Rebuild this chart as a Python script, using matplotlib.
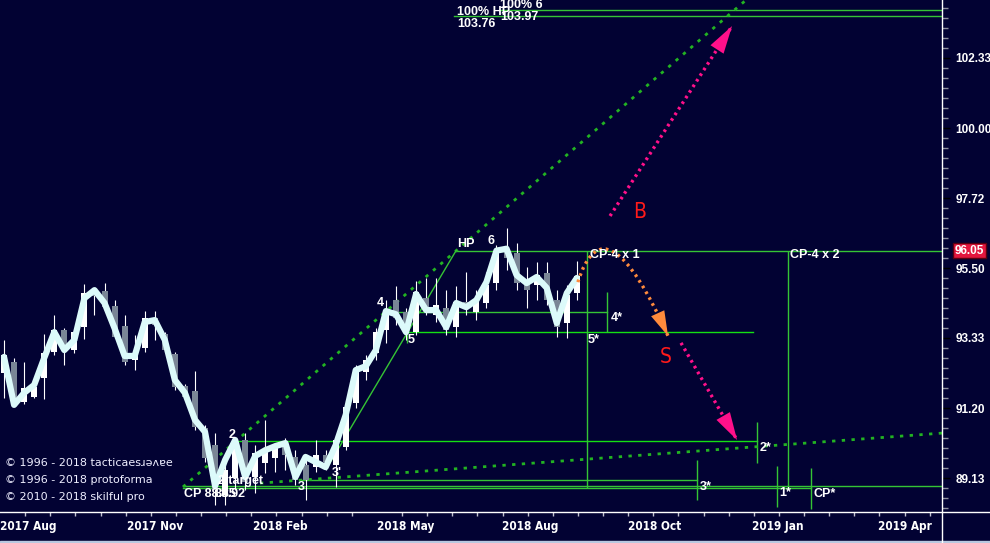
import matplotlib.pyplot as plt
import numpy as np
import matplotlib.transforms as mtransforms
from matplotlib.lines import Line2D
from matplotlib.patches import Rectangle, PathPatch
from matplotlib.path import Path
from matplotlib.ticker import FixedLocator, NullFormatter

# weekly bars, index 0 = first week of Aug 2017
bar_open = [92.26, 92.60, 91.39, 91.54, 92.11, 92.90, 93.57, 92.96, 93.66, 94.78,
            94.78, 94.31, 93.69, 92.66, 93.02, 93.94, 93.45, 92.84, 91.87, 91.72,
            90.61, 90.10, 88.64, 89.13, 90.25, 89.16, 89.57, 89.72, 90.19, 89.75,
            89.51, 89.45, 89.80, 89.51, 90.04, 91.36, 92.29, 92.87, 93.57, 94.50,
            94.13, 93.51, 94.56, 94.03, 94.25, 93.66, 94.44, 94.13, 94.41, 95.03,
            96.11, 95.96, 95.13, 94.97, 95.35, 94.50, 93.79, 94.72]
bar_high = [93.27, 92.72, 92.60, 91.90, 93.45, 94.03, 93.63, 93.57, 95.00, 94.84,
            95.03, 94.50, 94.03, 93.42, 94.16, 94.16, 93.51, 92.90, 91.93, 92.32,
            90.70, 90.46, 89.66, 90.31, 90.46, 90.10, 90.85, 90.16, 90.31, 89.95,
            89.72, 90.25, 89.95, 90.40, 91.45, 92.50, 92.81, 93.63, 94.50, 94.94,
            94.25, 95.10, 95.19, 95.19, 94.81, 94.94, 95.38, 94.81, 95.38, 96.22,
            96.77, 96.28, 95.53, 95.69, 95.69, 94.81, 94.97, 95.72]
bar_low = [91.51, 91.30, 91.33, 91.51, 91.48, 92.81, 92.50, 92.87, 93.30, 94.03,
           94.19, 93.33, 92.50, 92.35, 92.90, 93.27, 92.90, 91.75, 91.45, 90.55,
           89.60, 88.35, 88.35, 88.78, 88.78, 88.69, 89.28, 89.31, 89.37, 88.93,
           88.49, 89.31, 89.37, 88.87, 89.95, 91.21, 92.05, 92.66, 93.18, 93.72,
           93.27, 93.42, 94.03, 93.82, 93.42, 93.36, 94.03, 93.88, 94.25, 94.81,
           95.44, 94.81, 94.25, 94.50, 94.35, 93.36, 93.33, 94.50]
bar_close = [92.81, 91.39, 91.81, 91.84, 92.87, 93.57, 93.05, 93.51, 94.72, 94.63,
             94.28, 93.36, 92.60, 92.87, 93.94, 93.72, 92.96, 91.84, 91.54, 90.64,
             89.72, 88.78, 89.37, 90.19, 89.01, 89.86, 89.89, 90.04, 89.80, 89.07,
             89.07, 89.80, 89.60, 90.25, 91.24, 92.35, 92.66, 93.51, 94.19, 93.94,
             93.72, 94.75, 94.19, 94.34, 93.57, 94.44, 94.25, 94.50, 94.97, 96.05,
             95.81, 95.03, 94.81, 95.28, 94.50, 93.66, 94.66, 95.25]
ma_line = [92.75, 91.30, 91.66, 91.90, 92.72, 93.51, 92.96, 93.27, 94.56, 94.81,
           94.41, 93.63, 92.78, 92.78, 93.82, 93.88, 93.27, 92.05, 91.66, 90.85,
           90.49, 88.90, 89.66, 90.25, 89.16, 89.78, 89.95, 90.07, 90.16, 89.16,
           89.75, 89.60, 89.45, 90.10, 91.00, 92.35, 92.47, 92.96, 94.16, 94.06,
           93.51, 94.69, 94.19, 94.19, 93.66, 94.41, 94.28, 94.50, 95.06, 96.05,
           96.11, 95.28, 95.03, 95.22, 94.88, 93.79, 94.72, 95.19]

month_labels = ['2017 Aug', '2017 Nov', '2018 Feb', '2018 May', '2018 Aug',
                '2018 Oct', '2019 Jan', '2019 Apr']
month_pos = [-0.4, 12.24, 24.78, 37.1, 49.55, 62.09, 74.43, 86.97]

price_ticks = [89.13, 91.20, 93.33, 95.50, 97.72, 100.00, 102.33]
price_tick_text = ['89.13', '91.20', '93.33', '95.50', '97.72', '100.00', '102.33']
last_price = 96.05

# price levels: value, from bar, to bar
level_price = [103.97, 103.76, 96.05, 94.13, 93.51, 90.22, 89.07, 88.90, 88.84]
level_from = [49.35, 44.78, 44.98, 38.1, 40.1, 22.8, 29.45, 17.8, 17.8]
level_to = [93.5, 93.5, 93.5, 60.0, 74.5, 74.9, 68.96, 93.5, 80.3]
level_bright = [False, False, False, False, True, True, False, False, False]

# vertical markers: bar, top, bottom
mark_x = [58.0, 78.0, 60.0, 40.1, 74.9, 68.96, 76.9, 80.3]
mark_top = [96.05, 96.05, 94.75, 93.51, 90.79, 89.66, 89.49, 89.43]
mark_bot = [88.85, 88.85, 93.51, 93.18, 89.57, 88.49, 88.29, 88.23]

# dotted trend lines
trend_x = [[17.81, 73.83], [25.47, 93.5]]
trend_y = [[88.87, 104.30], [88.98, 90.46]]
channel_x = [32.14, 44.98]
channel_y = [89.43, 96.05]

notes = [('2', 22.3, 90.40), ('2 target', 21.3, 89.04), ('CP 88.85', 17.9, 88.66),
         ('88.92', 21.0, 88.66), ('3', 29.25, 88.87), ("3'", 32.6, 89.28),
         ('4', 37.1, 94.41), ('5', 40.2, 93.27), ('HP', 45.07, 96.27),
         ('6', 48.06, 96.36), ('CP-4 x 1', 58.3, 95.90), ('CP-4 x 2', 78.2, 95.90),
         ('4*', 60.4, 93.94), ('5*', 58.1, 93.27), ('2*', 75.2, 90.01),
         ('3*', 69.25, 88.87), ('1*', 77.1, 88.69), ('CP*', 80.5, 88.66),
         ('100% HP', 45.1, 103.89), ('103.76', 45.1, 103.48),
         ('100% 6', 49.35, 104.13), ('103.97', 49.35, 103.72)]

buy_arrow = [(60.3, 97.15), (72.44, 103.41)]
sell_arrow = [(67.36, 93.18), (72.94, 90.25)]
turn_arrow = [(57.1, 95.06), (59.8, 97.82), (66.07, 93.39)]

credits = ['\u00a9 1996 - 2018 tacticaes\u0279\u0259\u028c\u0250e',
           '\u00a9 1996 - 2018 protoforma',
           '\u00a9 2010 - 2018 skilful pro']

bg = '#020233'
green = '#35c435'
bright_green = '#14e014'
pink = '#ff108a'
orange = '#ff8a3c'

fig = plt.figure(figsize=(9.9, 5.43), dpi=100, facecolor=bg)
ax = fig.add_axes([0, 31 / 543, 942 / 990, 512 / 543])
ax.set_facecolor(bg)
ax.set_yscale('log')
ax.set_xlim(-0.4, 93.33)
ax.set_ylim(88.14, 104.30)
for s in ax.spines.values():
    s.set_visible(False)

# levels and markers
for p, a, b, br in zip(level_price, level_from, level_to, level_bright):
    ax.plot([a, b], [p, p], color=bright_green if br else green, lw=1, zorder=2)
ax.vlines(mark_x, mark_bot, mark_top, color=green, lw=1, zorder=2)
for tx, ty in zip(trend_x, trend_y):
    ax.plot(tx, ty, color='#22b322', lw=2, linestyle=(0, (1.2, 2.3)), zorder=2)
ax.plot(channel_x, channel_y, color=green, lw=1, zorder=2)

# candles
x = np.arange(len(bar_close))
o = np.array(bar_open)
c = np.array(bar_close)
ax.vlines(x, bar_low, bar_high, color='white', lw=0.8, zorder=3)
body_col = ['white' if cc >= oo else '#7a8696' for oo, cc in zip(o, c)]
ax.bar(x, np.abs(c - o), bottom=np.minimum(o, c), width=0.6, color=body_col,
       zorder=4)

ax.plot(x, ma_line, color='#dcfafa', lw=4.5, solid_joinstyle='round',
        solid_capstyle='round', zorder=5)

# arrows
for (sx, sy), (ex, ey) in [buy_arrow, sell_arrow]:
    ax.plot([sx, ex], [sy, ey], color=pink, lw=2.4, linestyle=(0, (0.8, 1.2)),
            zorder=6)
    ax.annotate('', xy=(ex, ey), xytext=(sx, sy),
                arrowprops=dict(arrowstyle='-|>,head_length=0.5,head_width=0.14',
                                mutation_scale=40, color=pink, lw=0,
                                shrinkA=0, shrinkB=0), zorder=7)
path = Path(turn_arrow, [Path.MOVETO, Path.CURVE3, Path.CURVE3])
ax.add_patch(PathPatch(path, fill=False, edgecolor=orange, lw=2.4,
                       linestyle=(0, (0.8, 1.2)), zorder=6))
ax.annotate('', xy=turn_arrow[2], xytext=(65.25, 93.95),
            arrowprops=dict(arrowstyle='-|>,head_length=0.45,head_width=0.13',
                            mutation_scale=40, color=orange, lw=0,
                            shrinkA=0, shrinkB=0), zorder=7)
ax.text(62.6, 97.28, 'B', color='#ff1a1a', fontsize=15, ha='left', va='center',
        fontstretch='condensed', fontweight='light', zorder=7)
ax.text(65.2, 92.75, 'S', color='#ff1a1a', fontsize=15, ha='left', va='center',
        fontstretch='condensed', fontweight='light', zorder=7)

for t, tx, ty in notes:
    ax.text(tx, ty, t, color='white', fontsize=9, fontweight='bold',
            family=['Liberation Sans', 'DejaVu Sans'],
            ha='left', va='center', zorder=8)

for i, t in enumerate(credits):
    fig.text(5 / 990, 1 - (463 + 17 * i) / 543, t, color='#eeeeff', fontsize=8,
             ha='left', va='center')

# axes / ticks
ax.yaxis.tick_right()
ax.set_yticks(price_ticks)
ax.set_yticklabels(price_tick_text, family=['Liberation Sans', 'DejaVu Sans'],
                   fontweight='bold')
minor = [100 * 1.0233 ** (k / 7) for k in range(-45, 25) if k % 7]
ax.yaxis.set_minor_locator(FixedLocator(minor))
ax.yaxis.set_minor_formatter(NullFormatter())
ax.tick_params(axis='y', which='major', colors='black', labelcolor='white',
               length=6, width=1, pad=3.5, labelsize=8.5)
ax.tick_params(axis='y', which='minor', colors='#9090a0', length=4, width=1)

ax.set_xticks(month_pos)
ax.set_xticklabels(month_labels, ha='left', family='DejaVu Sans',
                   fontstretch='condensed', fontweight='bold')
ax.tick_params(axis='x', which='major', length=0, pad=5.5, labelsize=8.5,
               labelcolor='white')
ax.xaxis.set_minor_locator(FixedLocator(np.arange(2.1, 93, 2.5)))
ax.tick_params(axis='x', which='minor', length=3, width=1, colors='#c0c0d0')

blend = mtransforms.blended_transform_factory(fig.transFigure, ax.transData)
ax.text(955 / 990, last_price, f'{last_price:.2f}', transform=blend, color='white',
        fontsize=8.5, fontweight='bold', family=['Liberation Sans', 'DejaVu Sans'],
        ha='left', va='center', clip_on=False,
        bbox=dict(facecolor='#e3163e', edgecolor='#5a0010', pad=1.2), zorder=9)

fig.add_artist(Line2D([942 / 990, 942 / 990], [0, 1], color='white', lw=1,
                      transform=fig.transFigure))
fig.add_artist(Line2D([0, 1], [31 / 543, 31 / 543], color='white', lw=1,
                      transform=fig.transFigure))
fig.add_artist(Rectangle((0, 0), 1, 2 / 543, color='#b8c8e0',
                         transform=fig.transFigure))

fig.savefig('out.png', dpi=100, facecolor=bg)
